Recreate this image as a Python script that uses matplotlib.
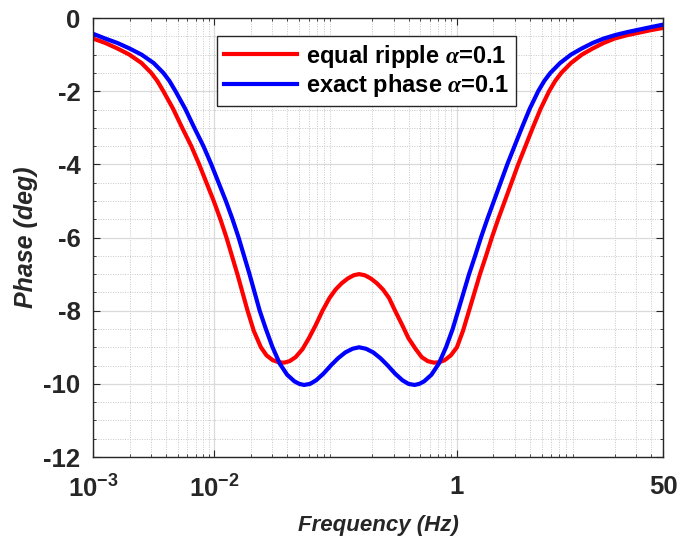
import numpy as np
import matplotlib
matplotlib.use("Agg")
import matplotlib.pyplot as plt
from matplotlib.ticker import FixedLocator, MultipleLocator, LogLocator, NullFormatter

# log10 of frequency (Hz) and phase (deg)
red_logf = [-3.00, -2.90, -2.80, -2.70, -2.60, -2.52, -2.47, -2.42, -2.34, -2.265,
            -2.19, -2.125, -2.065, -2.005, -1.95, -1.90, -1.855, -1.81, -1.768, -1.726,
            -1.675, -1.616, -1.57, -1.52, -1.47, -1.424, -1.38, -1.33, -1.273, -1.22,
            -1.165, -1.108, -1.05, -1.00, -0.95, -0.90, -0.85, -0.807, -0.76, -0.71,
            -0.66, -0.61, -0.56, -0.51, -0.45, -0.40, -0.34, -0.29, -0.24, -0.19,
            -0.145, -0.10, -0.05, 0.00, 0.05, 0.10, 0.145, 0.19, 0.24, 0.288,
            0.34, 0.395, 0.45, 0.505, 0.565, 0.625, 0.69, 0.76, 0.81, 0.86,
            0.94, 1.03, 1.12, 1.21, 1.30, 1.40, 1.50, 1.60, 1.699]
red_phase = [-0.56, -0.68, -0.83, -1.00, -1.23, -1.50, -1.72, -2.00, -2.48, -3.00,
             -3.50, -4.00, -4.50, -5.00, -5.50, -6.00, -6.50, -7.00, -7.50, -8.00,
             -8.55, -9.00, -9.22, -9.35, -9.41, -9.42, -9.38, -9.27, -9.05, -8.75,
             -8.40, -8.00, -7.65, -7.42, -7.25, -7.12, -7.03, -7.00, -7.03, -7.12,
             -7.25, -7.42, -7.65, -8.00, -8.40, -8.75, -9.05, -9.27, -9.38, -9.42,
             -9.41, -9.35, -9.22, -9.00, -8.55, -8.00, -7.50, -7.00, -6.50, -6.00,
             -5.50, -5.00, -4.50, -4.00, -3.50, -3.00, -2.48, -2.00, -1.72, -1.50,
             -1.23, -1.00, -0.83, -0.68, -0.56, -0.47, -0.40, -0.33, -0.27]

blue_logf = [-3.00, -2.90, -2.80, -2.70, -2.60, -2.50, -2.42, -2.37, -2.32, -2.24,
             -2.165, -2.09, -2.025, -1.965, -1.905, -1.85, -1.80, -1.755, -1.71, -1.668,
             -1.626, -1.575, -1.52, -1.46, -1.40, -1.34, -1.30, -1.26, -1.21, -1.16,
             -1.10, -1.04, -0.98, -0.92, -0.86, -0.807, -0.75, -0.69, -0.63, -0.57,
             -0.51, -0.45, -0.40, -0.35, -0.31, -0.27, -0.21, -0.15, -0.09, -0.035,
             0.01, 0.055, 0.10, 0.15, 0.198, 0.25, 0.305, 0.36, 0.415, 0.475,
             0.535, 0.60, 0.67, 0.72, 0.77, 0.85, 0.94, 1.03, 1.12, 1.21,
             1.31, 1.41, 1.51, 1.61, 1.699]
blue_phase = [-0.43, -0.56, -0.68, -0.83, -1.00, -1.23, -1.50, -1.72, -2.00, -2.48,
              -3.00, -3.50, -4.00, -4.50, -5.00, -5.50, -6.00, -6.50, -7.00, -7.50,
              -8.00, -8.50, -9.00, -9.45, -9.75, -9.93, -10.00, -10.03, -10.00, -9.90,
              -9.72, -9.50, -9.30, -9.14, -9.04, -9.00, -9.04, -9.14, -9.30, -9.50,
              -9.72, -9.90, -10.00, -10.03, -10.00, -9.93, -9.75, -9.45, -9.00, -8.50,
              -8.00, -7.50, -7.00, -6.50, -6.00, -5.50, -5.00, -4.50, -4.00, -3.50,
              -3.00, -2.48, -2.00, -1.72, -1.50, -1.23, -1.00, -0.83, -0.68, -0.56,
              -0.46, -0.38, -0.31, -0.24, -0.18]

labels = [r'equal ripple $\alpha$=0.1', r'exact phase $\alpha$=0.1']
xticks = [1e-3, 1e-2, 1, 50]
xticklabels = [r'$\mathbf{10^{-3}}$', r'$\mathbf{10^{-2}}$', '1', '50']
yticks = [0, -2, -4, -6, -8, -10, -12]

plt.rcParams['font.family'] = ['Liberation Sans', 'DejaVu Sans']
plt.rcParams['font.weight'] = 'bold'
plt.rcParams['axes.unicode_minus'] = False
plt.rcParams['mathtext.fontset'] = 'custom'
plt.rcParams['mathtext.rm'] = 'Liberation Sans:bold'
plt.rcParams['mathtext.bf'] = 'Liberation Sans:bold'
plt.rcParams['mathtext.it'] = 'Liberation Serif:italic'

fig = plt.figure(figsize=(6.81, 5.47), dpi=100)
ax = fig.add_axes([0.1366, 0.1645, 0.8370, 0.8025])

ax.plot(10 ** np.array(red_logf), red_phase, color='#ff0000', lw=3, label=labels[0])
ax.plot(10 ** np.array(blue_logf), blue_phase, color='#0000ff', lw=3, label=labels[1])

ax.set_xscale('log')
ax.set_xlim(1e-3, 50)
ax.set_ylim(-12, 0)
ax.xaxis.set_major_locator(FixedLocator(xticks))
ax.set_xticklabels(xticklabels)
ax.xaxis.set_minor_locator(LogLocator(base=10, subs=np.arange(2, 10), numticks=20))
ax.xaxis.set_minor_formatter(NullFormatter())
ax.set_yticks(yticks)
ax.yaxis.set_minor_locator(MultipleLocator(0.5))

ax.grid(which='major', color='#dadada', lw=0.9, ls='-')
ax.grid(which='minor', color='#c8c8c8', lw=0.7, ls=(0, (1, 1.5)))
ax.set_axisbelow(True)

ax.tick_params(which='both', direction='in', top=True, right=True, colors='#262626',
               labelcolor='#262626')
ax.tick_params(which='major', length=5, labelsize=18.5)
ax.tick_params(axis='x', which='major', pad=13)
ax.tick_params(axis='y', which='major', pad=9)
ax.tick_params(which='minor', length=2.5)
for s in ax.spines.values():
    s.set_color('#262626')
    s.set_linewidth(1.0)

ax.set_xlabel('Frequency (Hz)', fontsize=16, fontweight='bold', style='italic',
              color='#262626', labelpad=9)
ax.set_ylabel('Phase (deg)', fontsize=18, fontweight='bold', style='italic',
              color='#262626', labelpad=4)

leg = ax.legend(loc='upper left', bbox_to_anchor=(0.2175, 0.96), fontsize=17,
                frameon=True, fancybox=False, edgecolor='#262626', framealpha=1,
                handlelength=3.1, borderpad=0.3, labelspacing=0.1, handletextpad=0.35,
                borderaxespad=0.0)
leg.get_frame().set_linewidth(1.0)
for t in leg.get_texts():
    t.set_fontweight('bold')

fig.savefig('out.png', dpi=100)
